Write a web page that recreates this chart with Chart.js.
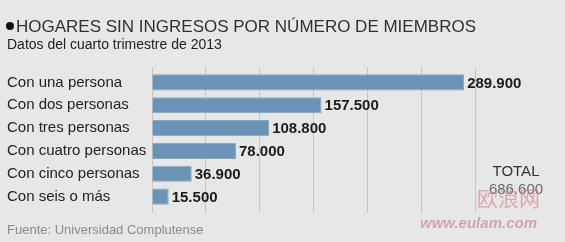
<!DOCTYPE html>
<html>
<head>
<meta charset="utf-8">
<script src="https://cdn.jsdelivr.net/npm/chart.js@4.4.0/dist/chart.umd.min.js"></script>
<style>
  html, body { margin: 0; padding: 0; background: #e7e7e7; }
  #wrap { position: relative; width: 565px; height: 242px; overflow: hidden; font-family: "Liberation Sans", Arial, sans-serif; }
  #wrap canvas { position: absolute; left: 0; top: 0; }
  .txt { position: absolute; white-space: nowrap; }
  #title { left: 6px; top: 18px; font-size: 17px; line-height: 17px; color: #303030; }
  #title .dot { display: inline-block; width: 8px; height: 8px; border-radius: 50%; background: #111; vertical-align: 2px; margin-right: 2px; }
  #sub { left: 7px; top: 37px; font-size: 14px; line-height: 14px; color: #222; }
  #foot { left: 7px; top: 223px; font-size: 13px; line-height: 13px; color: #8a8a8a; }
  #total { left: 486px; top: 162px; width: 60px; text-align: center; font-size: 15px; line-height: 18px; color: #333; }
  #total .num { color: #6a6a6a; }
  #wm1 { left: 477px; top: 186px; font-family: "Noto Sans CJK SC"; font-size: 21px; line-height: 22px; color: rgba(205,120,130,0.55); }
  #wm2 { left: 420px; top: 215px; font-size: 15px; line-height: 15px; font-weight: bold; font-style: italic; color: rgba(200,120,130,0.6); }
</style>
</head>
<body>
<div id="wrap">
  <canvas id="chart" width="565" height="242"></canvas>
  <div class="txt" id="title"><span class="dot"></span>HOGARES SIN INGRESOS POR NÚMERO DE MIEMBROS</div>
  <div class="txt" id="sub">Datos del cuarto trimestre de 2013</div>
  <div class="txt" id="foot">Fuente: Universidad Complutense</div>
  <div class="txt" id="total">TOTAL<br><span class="num">686.600</span></div>
  <div class="txt" id="wm1">欧浪网</div>
  <div class="txt" id="wm2">www.eulam.com</div>
</div>
<script>
const categories = ["Con una persona", "Con dos personas", "Con tres personas", "Con cuatro personas", "Con cinco personas", "Con seis o más"];
const hogares = [289900, 157500, 108800, 78000, 36900, 15500];
const xMax = 300000;
const xStep = 50000;

// 289900 -> "289.900"
const fmt = (v) => String(v).replace(/\B(?=(\d{3})+(?!\d))/g, ".");

const valueLabels = {
    id: "valueLabels",
    afterDatasetsDraw(chart) {
        const ctx = chart.ctx;
        const meta = chart.getDatasetMeta(0);
        ctx.save();
        ctx.font = "bold 15px 'Liberation Sans', Arial, sans-serif";
        ctx.fillStyle = "#1b1b1b";
        ctx.textAlign = "left";
        ctx.textBaseline = "middle";
        meta.data.forEach((bar, i) => {
            ctx.fillText(fmt(hogares[i]), bar.x + 3, bar.y + 1);
        });
        ctx.restore();
    }
};

const canvas = document.getElementById("chart");
const myChart = new Chart(canvas, {
    type: "bar",
    data: {
        labels: categories,
        datasets: [{
            data: hogares,
            backgroundColor: "#6b93b5",
            borderColor: "#86a7c3",
            borderWidth: 1,
            barPercentage: 0.71,
            categoryPercentage: 1
        }]
    },
    options: {
        indexAxis: "y",
        responsive: false,
        animation: false,
        events: [],
        layout: { padding: { left: 7, top: 67, right: 90, bottom: 29 } },
        plugins: { legend: { display: false }, tooltip: { enabled: false } },
        scales: {
            x: {
                min: 0, max: xMax,
                ticks: { stepSize: xStep, display: false },
                grid: { color: "#c6c6c6", lineWidth: 1, tickLength: 5, tickColor: "#c6c6c6" },
                border: { display: false }
            },
            x2: {
                position: "top",
                min: 0, max: xMax,
                ticks: { stepSize: xStep, display: false },
                grid: { drawOnChartArea: false, tickLength: 4, color: "#c6c6c6" },
                border: { display: false }
            },
            y: {
                grid: { display: false },
                border: { display: false },
                ticks: {
                    crossAlign: "far",
                    color: "#222",
                    padding: 0,
                    font: { family: "'Liberation Sans', Arial, sans-serif", size: 15 }
                },
                afterFit(scale) { scale.width = 145; }
            }
        }
    },
    plugins: [valueLabels]
});
</script>
</body>
</html>
